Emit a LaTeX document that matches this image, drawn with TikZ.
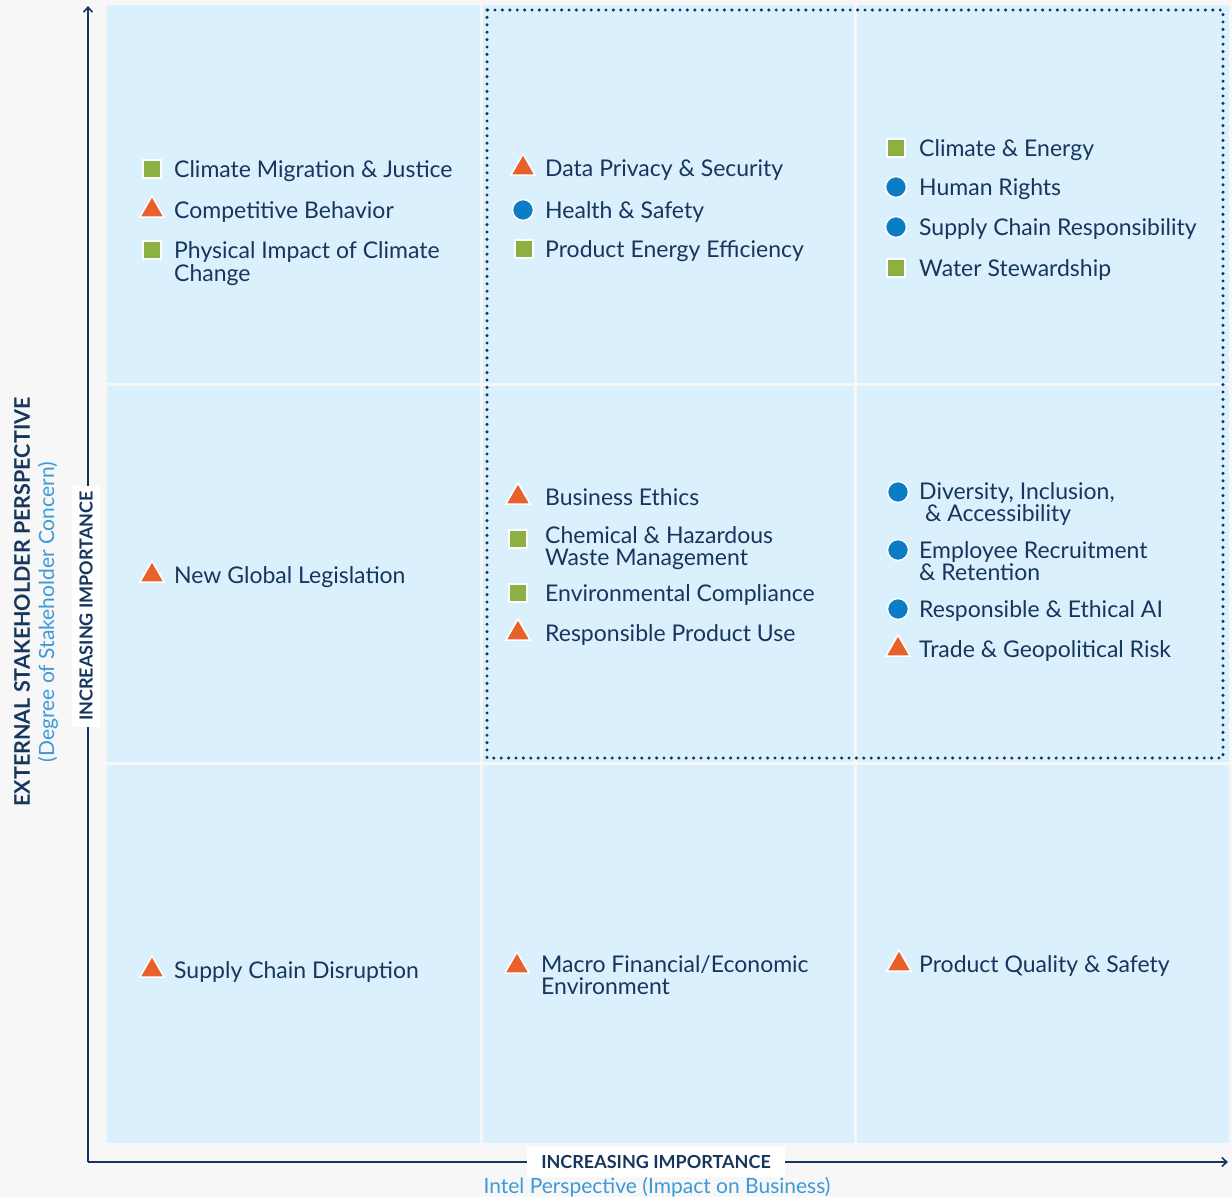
\documentclass[tikz,border=0pt]{standalone}
\usepackage{fontspec}
\setmainfont{Lato}
\usetikzlibrary{shapes.geometric,calc,arrows.meta}
\definecolor{bgc}{HTML}{F7F7F7}
\definecolor{cellc}{HTML}{DAF0FD}
\definecolor{navy}{HTML}{17365D}
\definecolor{lblue}{HTML}{3B9AD9}
\definecolor{mgreen}{HTML}{8DB043}
\definecolor{morange}{HTML}{E8612A}
\definecolor{mblue}{HTML}{0B7DC7}
\tikzset{
  cellbox/.style={fill=cellc, draw=none},
  lbl/.style={text=navy, inner sep=0pt, align=left, font=\fontsize{23}{22}\selectfont},
  sq/.style={rectangle, minimum size=18pt, inner sep=0pt, fill=mgreen, draw=white, line width=1.5pt},
  circ/.style={circle, minimum size=21pt, inner sep=0pt, fill=mblue, draw=white, line width=1.5pt},
  tri/.style={regular polygon, regular polygon sides=3, minimum size=28pt, inner sep=0pt, fill=morange, draw=white, line width=1.5pt},
  axis/.style={draw=navy, line width=2.6pt, -{Straight Barb[length=5pt,width=9pt,line width=1.6pt]}},
  axlbl/.style={fill=white, text=navy, inner sep=0pt, font=\bfseries\fontsize{18}{18}\selectfont},
  dotbox/.style={draw=navy, line width=3.4pt, line cap=round, dash pattern=on 0pt off 7.4pt}
}
% #1 name, #2 marker style, #3 marker x, #4 marker y, #5 text x, #6 offset of last baseline, #7 text
\newcommand{\mkitem}[7]{%
  \node[#2] (#1m) at (#3,#4) {};
  \node[lbl, anchor=base west] (#1) at ($(#5,#4)+(0,#6)$) {#7};}
\begin{document}
\begin{tikzpicture}[x=1pt,y=-1pt]
\useasboundingbox (0,0) rectangle (1232,1197);
\fill[bgc] (0,0) rectangle (1232,1197);
% cells
\fill[cellbox] (107,5) rectangle (480,383);
\fill[cellbox] (483,5) rectangle (854,383);
\fill[cellbox] (857,5) rectangle (1229,383);
\fill[cellbox] (107,386) rectangle (480,762);
\fill[cellbox] (483,386) rectangle (854,762);
\fill[cellbox] (857,386) rectangle (1229,762);
\fill[cellbox] (107,765) rectangle (480,1143);
\fill[cellbox] (483,765) rectangle (854,1143);
\fill[cellbox] (857,765) rectangle (1229,1143);
% dotted region
\draw[dotbox] (487,10) rectangle (1223,758);
% axes
\coordinate (org) at (88,1162);
\coordinate (ytop) at (88,6);
\coordinate (xend) at (1228,1162);
\draw[axis] (org) -- (ytop);
\draw[axis] (org) -- (xend);
\node[axlbl, rotate=90, minimum width=241pt, minimum height=28pt] (ylab) at (86,606) {INCREASING IMPORTANCE};
\node[axlbl, minimum width=258pt, minimum height=30pt] (xlab) at (656,1162) {INCREASING IMPORTANCE};
\node[text=navy, inner sep=0pt, rotate=90, font=\bfseries\fontsize{21.5}{21.5}\selectfont] (ytitle) at (22,602) {EXTERNAL STAKEHOLDER PERSPECTIVE};
\node[text=lblue, inner sep=0pt, rotate=90, font=\fontsize{21}{21}\selectfont] (ysub) at (48,612) {(Degree of Stakeholder Concern)};
\node[text=lblue, inner sep=0pt, font=\fontsize{21}{21}\selectfont] (xsub) at (657,1187) {Intel Perspective (Impact on Business)};
% top-left
\mkitem{a1}{sq}{152}{169}{174}{8}{Climate Migration \& Justice}
\mkitem{a2}{tri}{152}{210}{174}{8}{Competitive Behavior}
\mkitem{a3}{sq}{152}{250}{174}{31}{Physical Impact of Climate\\[1pt]Change}
% top-middle
\mkitem{b1}{tri}{523}{168}{545}{8}{Data Privacy \& Security}
\mkitem{b2}{circ}{523}{210}{545}{8}{Health \& Safety}
\mkitem{b3}{sq}{524}{249}{545}{8}{Product Energy Efficiency}
% top-right
\mkitem{c1}{sq}{896}{148}{919}{8}{Climate \& Energy}
\mkitem{c2}{circ}{896}{187}{919}{8}{Human Rights}
\mkitem{c3}{circ}{896}{227}{919}{8}{Supply Chain Responsibility}
\mkitem{c4}{sq}{896}{268}{919}{8}{Water Stewardship}
% mid-left
\mkitem{d1}{tri}{152}{575}{174}{8}{New Global Legislation}
% mid-middle
\mkitem{e1}{tri}{518}{497}{545}{8}{Business Ethics}
\mkitem{e2}{sq}{518}{539}{545}{26}{Chemical \& Hazardous\\Waste Management}
\mkitem{e3}{sq}{518}{593}{545}{8}{Environmental Compliance}
\mkitem{e4}{tri}{518}{633}{545}{8}{Responsible Product Use}
% mid-right
\mkitem{f1}{circ}{898}{492}{919}{29}{Diversity, Inclusion,\\\ \& Accessibility}
\mkitem{f2}{circ}{898}{550}{919}{30}{Employee Recruitment\\\& Retention}
\mkitem{f3}{circ}{898}{609}{919}{8}{Responsible \& Ethical AI}
\mkitem{f4}{tri}{898}{649}{919}{8}{Trade \& Geopolitical Risk}
% bottom
\mkitem{g1}{tri}{152}{970}{174}{8}{Supply Chain Disruption}
\mkitem{h1}{tri}{517}{966}{541}{28}{Macro Financial/Economic\\Environment}
\mkitem{i1}{tri}{899}{964}{919}{8}{Product Quality \& Safety}
\end{tikzpicture}
\end{document}
